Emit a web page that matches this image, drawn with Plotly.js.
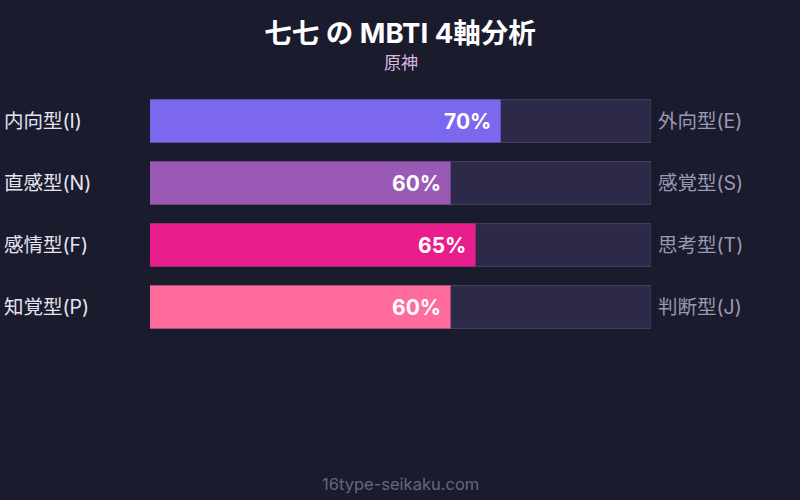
<!DOCTYPE html>
<html>
<head>
<meta charset="utf-8">
<script src="https://cdn.plot.ly/plotly-3.0.1.min.js"></script>
<style>
  html, body { margin: 0; padding: 0; background: #1b1b2e; }
  #chart { width: 800px; height: 500px; }
</style>
</head>
<body>
<div id="chart"></div>
<script>
// MBTI axes
const leftLabels = ["内向型(I)", "直感型(N)", "感情型(F)", "知覚型(P)"];
const rightLabels = ["外向型(E)", "感覚型(S)", "思考型(T)", "判断型(J)"];
const values = [70, 60, 65, 60];
const barColors = ["#7b68ee", "#9b59b6", "#e91e8c", "#ff6b9d"];
const fullScale = [100, 100, 100, 100];

const FONT = "Inter, 'Noto Sans CJK JP', sans-serif";
const rows = [0, 1, 2, 3];

// grey track behind each bar
const track = {
    type: "bar",
    orientation: "h",
    x: fullScale,
    y: rows,
    width: 0.69,
    offset: -0.345,
    marker: { color: "#2c2a48", line: { color: "#45435f", width: 1 }, cornerradius: 0 },
    hoverinfo: "skip"
};

const filled = {
    type: "bar",
    orientation: "h",
    x: values,
    y: rows,
    width: 0.69,
    offset: -0.345,
    marker: { color: barColors, cornerradius: 8 },
    hoverinfo: "skip"
};

const annotations = [];
rows.forEach(function (i) {
    annotations.push({
        xref: "paper", yref: "y", x: -0.2954, y: i,
        xanchor: "left", yanchor: "middle", showarrow: false,
        text: leftLabels[i],
        font: { family: FONT, size: 19.5, color: "#e4e4f0" }
    });
    annotations.push({
        xref: "paper", yref: "y", x: 1.01, y: i,
        xanchor: "left", yanchor: "middle", showarrow: false,
        text: rightLabels[i],
        font: { family: FONT, size: 19.5, color: "#9a9ab0" }
    });
    annotations.push({
        xref: "x", yref: "y", x: values[i], y: i,
        xanchor: "right", yanchor: "middle", showarrow: false, xshift: -8,
        text: "<b>" + values[i] + "%</b>",
        font: { family: FONT, size: 21, color: "#ffffff" }
    });
});

annotations.push({
    xref: "paper", yref: "paper", x: 0.5, y: 1.0, yshift: 27,
    xanchor: "center", yanchor: "middle", showarrow: false,
    text: "原神",
    font: { family: FONT, size: 17, color: "#dcb8e0" }
});
annotations.push({
    xref: "paper", yref: "paper", x: 0.5, y: 0, yshift: -146,
    xanchor: "center", yanchor: "middle", showarrow: false,
    text: "16type-seikaku.com",
    font: { family: FONT, size: 16.5, color: "#66667f" }
});

const layout = {
    width: 800,
    height: 500,
    paper_bgcolor: "#1b1b2e",
    plot_bgcolor: "#1b1b2e",
    margin: { l: 150, r: 149, t: 90, b: 162 },
    barmode: "group",
    showlegend: false,
    title: {
        text: "<b>七七 の MBTI 4軸分析</b>",
        x: 0.5, xanchor: "center",
        y: 0.934, yanchor: "middle",
        font: { family: FONT, size: 27.5, color: "#ffffff" }
    },
    xaxis: { range: [0, 100], visible: false, fixedrange: true },
    yaxis: { range: [3.5, -0.5], visible: false, fixedrange: true },
    annotations: annotations
};

Plotly.newPlot("chart", [track, filled], layout, { displayModeBar: false, staticPlot: true });
</script>
</body>
</html>
